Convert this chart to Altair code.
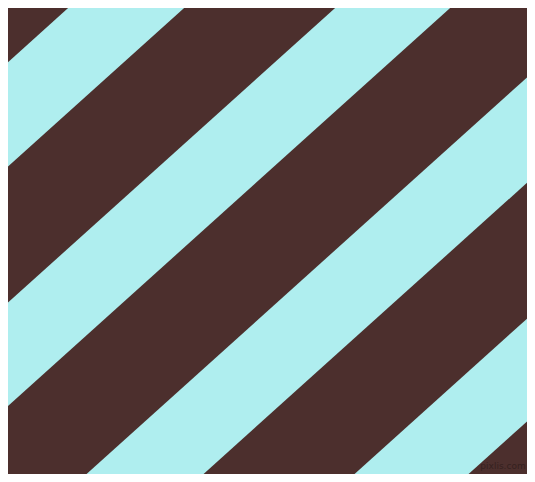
import math
import altair as alt
import pandas as pd

# Stripe boundaries: intercepts on the top edge (image pixels) of each light stripe
stripe_start = [77, 344, 613, 881]
stripe_end = [193, 459, 730, 995]
angle_deg = 42
x_edges = [0, 535]

DARK = "#4C2F2D"
LIGHT = "#AFEEEF"

t = math.tan(math.radians(angle_deg))
rows = []
for i, (c1, c2) in enumerate(zip(stripe_start, stripe_end)):
    for x in x_edges:
        rows.append({"stripe": i, "x": x, "top": (c1 - x) * t, "bottom": (c2 - x) * t})
df = pd.DataFrame(rows)

xs = alt.Scale(domain=[8, 527], nice=False, zero=False)
ys = alt.Scale(domain=[8, 474], nice=False, zero=False, reverse=True)

stripes = alt.Chart(df).mark_area(clip=True, fill=LIGHT, strokeWidth=0).encode(
    x=alt.X("x:Q", scale=xs, axis=None),
    y=alt.Y("top:Q", scale=ys, axis=None, stack=False),
    y2="bottom:Q",
    detail="stripe:N",
)

mark = alt.Chart(pd.DataFrame({"t": ["pixlis.com"]})).mark_text(
    font="DejaVu Sans", fontSize=9, color="#35211f", align="center", baseline="middle"
).encode(
    text="t:N",
    x=alt.value(495),
    y=alt.value(458),
)

chart = alt.layer(stripes, mark).properties(
    width=519, height=466, padding=0, background=DARK,
    autosize=alt.AutoSizeParams(type="none"),
).configure_view(stroke=None, fill=DARK)

chart.save("out.html", embed_options={"renderer": "svg", "actions": False})
